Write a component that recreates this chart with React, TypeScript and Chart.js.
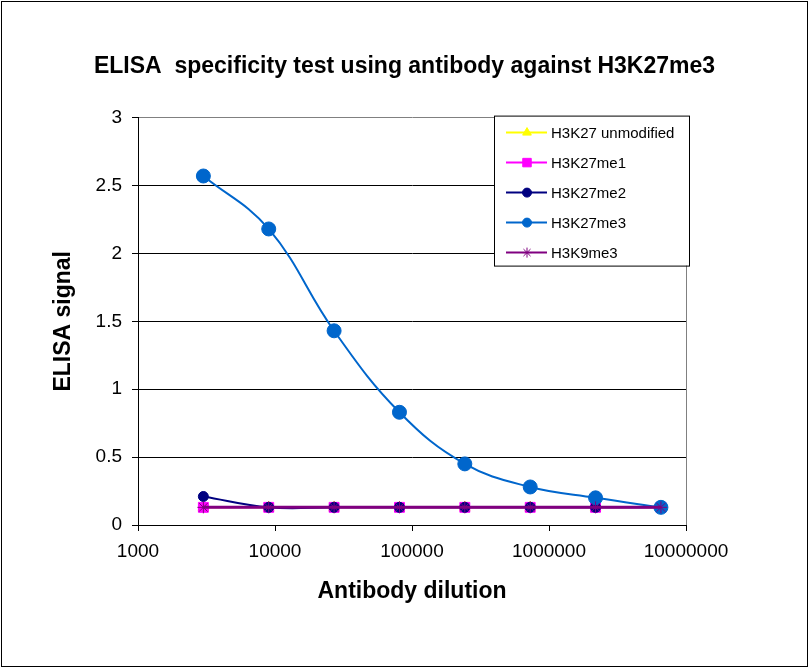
import { useEffect, useRef } from 'react';
import { Chart, registerables, type ChartConfiguration, type Plugin } from 'chart.js';
import { drawPoint } from 'chart.js/helpers';

Chart.register(...registerables);

const FONT = '"Liberation Sans", Arial, sans-serif';

// 3-fold serial dilutions of the antibody
const dilutions = [3000, 9000, 27000, 81000, 243000, 729000, 2187000, 6561000];

const h3k27Unmodified = [0.13, 0.13, 0.13, 0.13, 0.13, 0.13, 0.13, 0.13];
const h3k27me1 = [0.13, 0.13, 0.13, 0.13, 0.13, 0.13, 0.13, 0.13];
const h3k27me2 = [0.21, 0.13, 0.13, 0.13, 0.13, 0.13, 0.13, 0.13];
const h3k27me3 = [2.57, 2.18, 1.43, 0.83, 0.45, 0.28, 0.2, 0.13];
const h3k9me3 = [0.13, 0.13, 0.13, 0.13, 0.13, 0.13, 0.13, 0.13];

const xTicks = [1000, 10000, 100000, 1000000, 10000000];

const toPoints = (ys: number[]) => ys.map((y, i) => ({ x: dilutions[i], y }));

// legend drawn as a framed box inside the plot, like the spreadsheet original
const boxLegend: Plugin<'line'> = {
  id: 'boxLegend',
  afterDraw(chart) {
    const { ctx, chartArea } = chart;
    const x = chartArea.right - 192;
    const y = chartArea.top - 2;
    const w = 195;
    const h = 150;
    ctx.save();
    ctx.fillStyle = '#fff';
    ctx.fillRect(x, y, w, h);
    ctx.strokeStyle = '#000';
    ctx.lineWidth = 1;
    ctx.strokeRect(x + 0.5, y + 0.5, w, h);

    chart.data.datasets.forEach((ds: any, i) => {
      const cy = y + 17 + i * 30;
      ctx.strokeStyle = ds.borderColor;
      ctx.lineWidth = 2;
      ctx.beginPath();
      ctx.moveTo(x + 12, cy);
      ctx.lineTo(x + 53, cy);
      ctx.stroke();

      ctx.fillStyle = ds.pointBackgroundColor;
      ctx.strokeStyle = ds.pointBorderColor;
      ctx.lineWidth = 1;
      drawPoint(ctx, { pointStyle: ds.pointStyle, radius: ds.legendRadius, rotation: 0, borderWidth: 1 }, x + 33, cy);

      ctx.fillStyle = '#000';
      ctx.font = `15px ${FONT}`;
      ctx.textAlign = 'left';
      ctx.textBaseline = 'middle';
      ctx.fillText(ds.label, x + 57, cy + 1);
    });
    ctx.restore();
  },
};

// white page, outer frame and the grey right side of the plot area
const frame: Plugin<'line'> = {
  id: 'frame',
  beforeDraw(chart) {
    const { ctx, width, height } = chart;
    ctx.save();
    ctx.fillStyle = '#fff';
    ctx.fillRect(0, 0, width, height);
    ctx.strokeStyle = '#000';
    ctx.lineWidth = 1;
    ctx.strokeRect(1.5, 1.5, width - 3, height - 2);
    ctx.restore();
  },
  beforeDatasetsDraw(chart) {
    const { ctx, chartArea } = chart;
    ctx.save();
    ctx.strokeStyle = '#808080';
    ctx.lineWidth = 1;
    ctx.beginPath();
    ctx.moveTo(Math.round(chartArea.right) + 0.5, chartArea.top);
    ctx.lineTo(Math.round(chartArea.right) + 0.5, chartArea.bottom);
    ctx.stroke();
    ctx.restore();
  },
};

function series(label: string, data: number[], color: string, pointStyle: string, radius: number, legendRadius: number, order: number, width = 2) {
  return {
    label,
    data: toPoints(data),
    borderColor: color,
    backgroundColor: color,
    pointBackgroundColor: color,
    pointBorderColor: color,
    pointStyle,
    pointRadius: radius,
    pointBorderWidth: 1,
    borderWidth: width,
    tension: 0.4,
    order,
    legendRadius,
  };
}

export default function App() {
  const canvasRef = useRef<HTMLCanvasElement>(null);
  const chartRef = useRef<Chart | null>(null);

  useEffect(() => {
    if (!canvasRef.current) return;
    Chart.defaults.font.family = FONT;
    Chart.defaults.color = '#000';

    const config: ChartConfiguration<'line'> = {
      type: 'line',
      data: {
        datasets: [
          series('H3K27 unmodified', h3k27Unmodified, '#FFFF00', 'triangle', 6, 5, 4),
          series('H3K27me1', h3k27me1, '#FF00FF', 'rect', 7, 6, 3),
          series('H3K27me2', h3k27me2, '#000080', 'circle', 5, 4.5, 2),
          series('H3K27me3', h3k27me3, '#0066CC', 'circle', 7, 4.5, 1),
          series('H3K9me3', h3k9me3, '#800080', 'star', 6, 5, 0, 3),
        ] as any,
      },
      options: {
        animation: false,
        responsive: true,
        maintainAspectRatio: false,
        layout: { padding: 0 },
        plugins: {
          legend: { display: false },
          tooltip: { enabled: false },
          title: {
            display: true,
            text: 'ELISA  specificity test using antibody against H3K27me3',
            color: '#000',
            font: { size: 23, weight: 'bold', family: FONT },
            padding: { top: 53, bottom: 37 },
          },
        },
        scales: {
          x: {
            type: 'logarithmic',
            min: 1000,
            max: 10000000,
            afterBuildTicks: (scale) => {
              scale.ticks = xTicks.map((value) => ({ value }));
            },
            afterFit: (scale) => {
              scale.height = 142;
            },
            ticks: {
              autoSkip: false,
              maxRotation: 0,
              padding: 9,
              color: '#000',
              font: { size: 19 },
              callback: (v) => String(v),
            },
            grid: { drawOnChartArea: false, drawTicks: true, tickLength: 6, color: '#000' },
            border: { display: true, color: '#000', width: 1 },
            title: {
              display: true,
              text: 'Antibody dilution',
              color: '#000',
              font: { size: 23, weight: 'bold' },
              padding: { top: 0, bottom: 62 },
            },
          },
          y: {
            min: 0,
            max: 3,
            afterFit: (scale) => {
              scale.width = 138;
            },
            ticks: {
              stepSize: 0.5,
              padding: 10,
              color: '#000',
              font: { size: 19 },
              callback: (v) => String(v),
            },
            grid: {
              color: (ctx) => (ctx.tick && ctx.tick.value === 3 ? '#808080' : '#000'),
              tickColor: '#000',
              tickLength: 6,
              lineWidth: 1,
            },
            border: { display: true, color: '#000', width: 1 },
            title: {
              display: true,
              text: 'ELISA signal',
              color: '#000',
              font: { size: 23, weight: 'bold' },
              padding: { top: 50, bottom: 0 },
            },
          },
          yRight: {
            position: 'right',
            display: true,
            afterFit: (scale) => {
              scale.width = 123;
            },
            ticks: { display: false },
            grid: { display: false },
            border: { display: false },
          },
        },
      },
      plugins: [frame, boxLegend],
    };

    chartRef.current = new Chart(canvasRef.current, config);
    return () => {
      chartRef.current?.destroy();
      chartRef.current = null;
    };
  }, []);

  return (
    <div style={{ position: 'absolute', left: 0, top: 0, width: 809, height: 667 }}>
      <canvas ref={canvasRef} aria-label="ELISA specificity test using antibody against H3K27me3" role="img" />
    </div>
  );
}
